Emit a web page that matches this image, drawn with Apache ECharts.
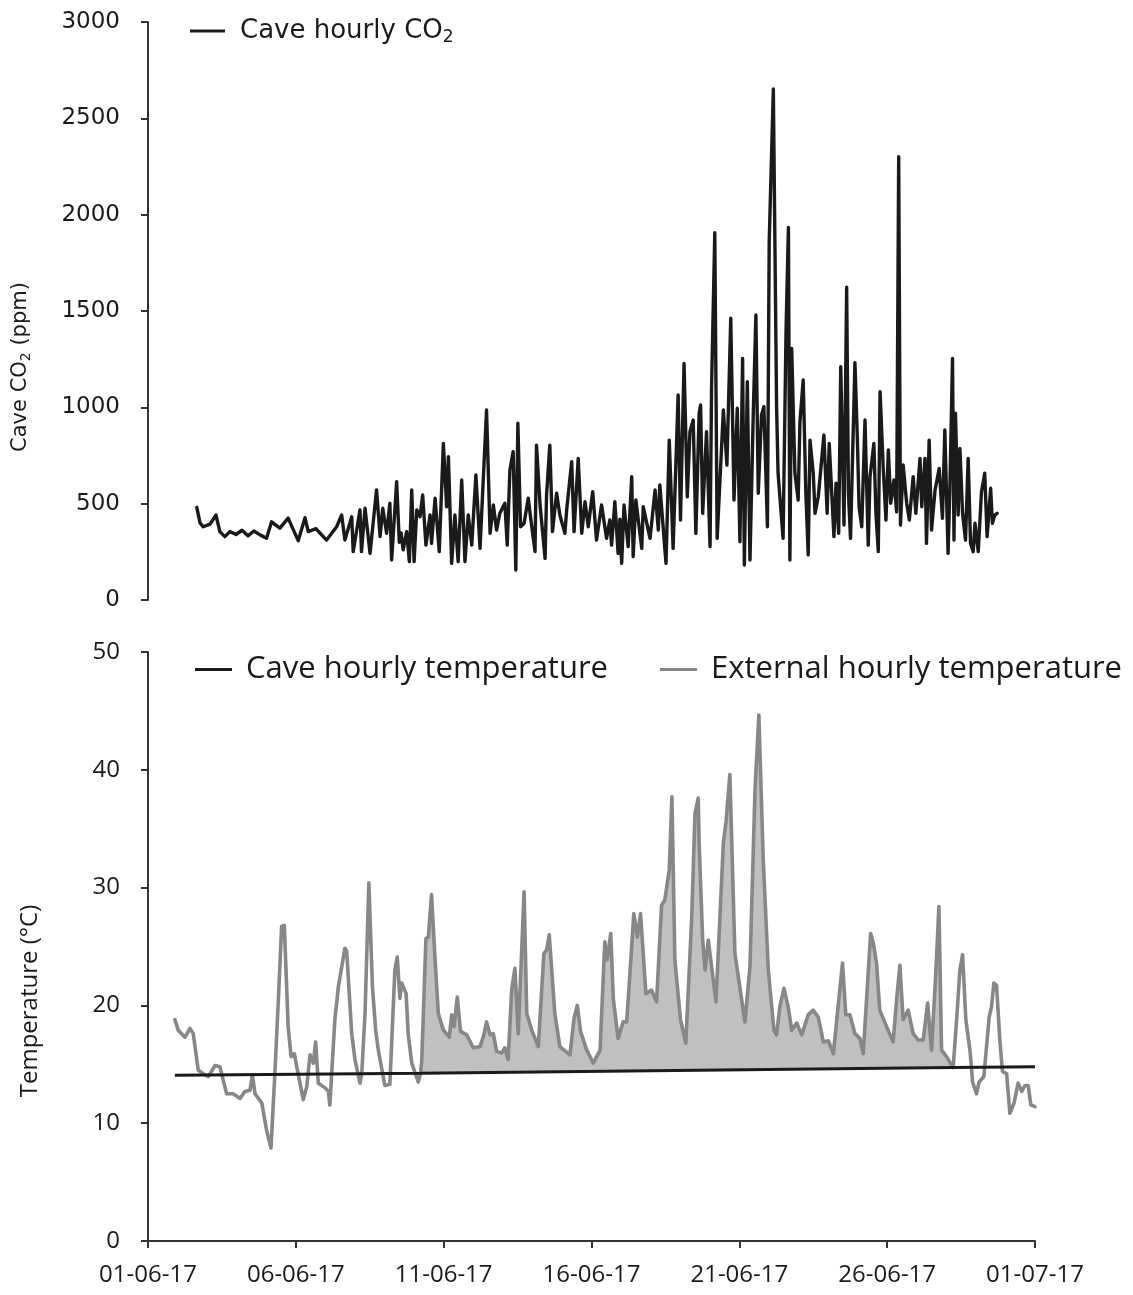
<!DOCTYPE html>
<html>
<head>
<meta charset="utf-8">
<script src="https://cdn.jsdelivr.net/npm/echarts@6/dist/echarts.min.js"></script>
<style>
html,body{margin:0;padding:0;background:#fff;}
#chart{width:1133px;height:1295px;}
</style>
</head>
<body>
<div id="chart"></div>
<script>
// x positions are days since 01-06-17 00:00
const dateTickLabels = ['01-06-17','06-06-17','11-06-17','16-06-17','21-06-17','26-06-17','01-07-17'];

const co2Days = [1.65,1.76,1.87,2.10,2.30,2.43,2.60,2.77,2.98,3.18,3.38,3.58,3.79,4.01,4.18,4.46,4.74,5.08,5.31,5.42,5.68,6.04,6.38,6.55,6.66,6.89,6.94,7.17,7.22,7.34,7.51,7.73,7.85,7.94,8.07,8.18,8.24,8.41,8.50,8.56,8.63,8.75,8.84,8.92,9.00,9.09,9.20,9.29,9.40,9.54,9.59,9.71,9.85,9.99,10.10,10.16,10.27,10.38,10.49,10.61,10.72,10.83,10.95,11.09,11.23,11.45,11.57,11.68,11.79,11.90,12.07,12.15,12.24,12.35,12.44,12.51,12.60,12.72,12.86,12.98,13.09,13.14,13.26,13.43,13.48,13.59,13.68,13.82,13.93,14.10,14.16,14.33,14.41,14.55,14.67,14.78,14.89,15.04,15.17,15.34,15.51,15.62,15.68,15.79,15.90,15.96,16.02,16.10,16.24,16.36,16.41,16.50,16.70,16.75,16.98,17.15,17.26,17.31,17.52,17.63,17.76,17.93,18.01,18.13,18.24,18.33,18.44,18.53,18.64,18.69,18.76,18.89,19.01,19.06,19.17,19.25,19.46,19.58,19.71,19.82,19.93,20.02,20.11,20.17,20.27,20.36,20.47,20.56,20.64,20.75,20.83,20.95,21.01,21.15,21.26,21.31,21.48,21.58,21.66,21.71,21.77,21.88,21.99,22.05,22.16,22.25,22.33,22.39,22.50,22.56,22.67,22.86,22.97,23.04,23.20,23.27,23.36,23.43,23.54,23.63,23.69,23.76,23.91,23.99,24.05,24.14,24.25,24.36,24.42,24.55,24.62,24.70,24.76,24.87,24.96,25.04,25.12,25.23,25.32,25.39,25.45,25.54,25.66,25.75,25.88,25.97,26.11,26.17,26.28,26.33,26.42,26.50,26.62,26.76,26.87,26.95,27.06,27.12,27.21,27.26,27.31,27.40,27.46,27.55,27.65,27.74,27.82,27.91,27.97,28.08,28.19,28.30,28.38,28.50,28.56,28.64,28.72];
const co2Values = [481,400,380,394,441,355,329,355,340,362,333,358,338,321,406,373,425,308,427,355,370,311,380,441,311,432,251,467,251,476,242,571,329,476,346,502,208,614,300,348,260,355,199,571,199,467,432,545,285,441,294,528,251,813,484,744,190,441,199,623,199,441,285,649,268,986,346,493,363,450,502,285,675,770,156,917,380,398,528,380,251,804,493,216,545,804,355,554,441,346,467,718,355,735,346,510,380,562,311,493,320,415,285,510,242,420,190,493,277,640,225,519,268,484,320,571,363,597,190,830,268,1064,415,1228,536,874,934,346,969,1012,450,874,277,1099,1906,320,986,700,1462,519,995,303,1254,182,1133,208,960,1479,554,960,1003,380,1860,2652,1003,658,320,1401,1934,208,1306,658,519,925,1142,554,234,830,658,450,536,856,450,813,329,606,346,1211,389,1623,554,320,1232,848,484,380,934,285,640,813,450,251,1081,675,415,779,502,623,458,2301,389,701,502,415,640,450,735,484,735,294,830,363,571,683,424,882,242,571,1254,311,969,441,787,450,311,735,294,251,398,251,562,658,329,580,398,441,450];

const extDays = [0.91,1.02,1.25,1.42,1.53,1.70,1.87,2.04,2.27,2.43,2.66,2.88,3.11,3.28,3.45,3.53,3.62,3.85,4.01,4.16,4.29,4.41,4.52,4.61,4.74,4.84,4.95,5.03,5.25,5.37,5.48,5.59,5.67,5.76,5.99,6.10,6.15,6.32,6.44,6.66,6.72,6.89,7.00,7.17,7.23,7.34,7.47,7.59,7.70,7.79,8.01,8.18,8.35,8.43,8.52,8.58,8.73,8.80,8.92,9.14,9.22,9.26,9.40,9.48,9.59,9.71,9.82,9.99,10.19,10.27,10.35,10.46,10.57,10.78,11.00,11.23,11.36,11.45,11.57,11.68,11.79,11.96,12.07,12.18,12.30,12.41,12.52,12.64,12.72,12.81,12.98,13.20,13.39,13.48,13.57,13.76,13.93,14.27,14.41,14.52,14.63,14.84,15.06,15.29,15.45,15.53,15.65,15.74,15.90,16.07,16.19,16.30,16.43,16.55,16.66,16.84,17.03,17.20,17.37,17.48,17.63,17.72,17.82,18.01,18.19,18.39,18.50,18.61,18.64,18.76,18.84,18.95,19.21,19.46,19.55,19.68,19.85,20.19,20.36,20.53,20.66,20.81,20.98,21.17,21.26,21.37,21.51,21.65,21.77,21.94,22.11,22.33,22.50,22.67,22.84,23.01,23.18,23.34,23.49,23.60,23.74,23.91,24.08,24.19,24.33,24.44,24.53,24.64,24.75,24.98,25.20,25.32,25.43,25.54,25.71,25.88,26.05,26.22,26.37,26.50,26.65,26.75,26.84,27.01,27.23,27.35,27.46,27.55,27.66,27.80,27.89,28.02,28.11,28.27,28.45,28.53,28.61,28.70,28.81,28.90,29.04,29.15,29.29,29.43,29.55,29.66,29.77,29.86,30.00];
const extValues = [18.8,17.9,17.3,18.05,17.6,14.5,14.2,13.95,14.9,14.8,12.5,12.5,12.1,12.7,12.8,14.1,12.5,11.7,9.4,7.9,14.2,20.5,26.7,26.8,18.2,15.65,15.9,14.8,12.0,13.1,15.8,15.1,16.9,13.4,13.0,12.7,11.55,18.8,21.6,24.85,24.6,17.6,15.4,13.4,14.2,19.3,30.4,21.6,17.9,16.2,13.2,13.3,23.0,24.1,20.6,21.9,21.0,17.6,15.1,13.5,14.25,15.4,25.7,25.8,29.4,23.85,19.3,17.9,17.3,19.2,18.2,20.7,17.8,17.5,16.4,16.5,17.5,18.6,17.5,17.6,16.1,15.95,16.4,15.4,21.3,23.15,17.6,24.7,29.65,19.3,17.9,16.5,24.4,24.7,26.0,19.3,16.5,15.8,18.9,20.0,17.8,16.2,15.1,16.2,25.4,23.85,26.1,20.5,17.2,18.6,18.6,22.7,27.8,25.8,27.8,21.0,21.3,20.3,28.5,28.95,31.5,37.7,23.85,18.8,16.8,27.5,36.3,37.6,33.8,25.55,23.0,25.55,20.3,33.8,35.6,39.6,24.4,18.6,23.3,38.3,44.65,32.3,23.0,17.9,17.5,19.9,21.45,19.9,17.9,18.5,17.5,19.2,19.6,19.0,16.9,17.0,15.9,19.9,23.6,19.2,19.2,17.6,17.2,15.9,21.6,26.1,25.3,23.6,19.6,18.2,16.9,20.5,23.4,18.8,19.6,17.6,17.06,17.06,20.2,16.2,23.0,28.4,16.2,15.65,14.72,18.8,23.0,24.3,18.8,16.2,13.5,12.5,13.5,13.95,19.0,19.9,21.9,21.7,17.06,14.4,14.2,10.84,11.7,13.4,12.7,13.2,13.2,11.55,11.4];

const caveDays = [0.91, 9.22, 27.23, 30.00];
const caveValues = [14.08, 14.25, 14.72, 14.80];

// shaded period (external above cave)
const shadeFromDay = 9.22;
const shadeToDay = 27.23;

const pair = (xs, ys) => xs.map((x, i) => [x, ys[i]]);
const co2Data = pair(co2Days, co2Values);
const extData = pair(extDays, extValues);
const caveData = pair(caveDays, caveValues);
const inShade = p => p[0] >= shadeFromDay && p[0] <= shadeToDay;
const shadeTop = extData.filter(inShade);
// white mask below the cave line, slightly wider than the shaded period to hide edge seams
const shadeBase = caveData.filter(inShade).map((p, i, a) =>
  [i === 0 ? p[0] - 0.04 : (i === a.length - 1 ? p[0] + 0.04 : p[0]), p[1]]);

const FT = 'DejaVu Sans';
const FB = 'Open Sans';
const INK = '#1a1a1a';

const chart = echarts.init(document.getElementById('chart'), null, {renderer: 'canvas'});
chart.setOption({
  animation: false,
  backgroundColor: '#fff',
  grid: [
    {left: 148, top: 22, width: 887, height: 578, outerBoundsMode: 'none'},
    {left: 148, top: 652, width: 887, height: 589, outerBoundsMode: 'none'}
  ],
  xAxis: [
    {type: 'value', gridIndex: 0, min: 0, max: 30, interval: 5, show: false},
    {type: 'value', gridIndex: 1, min: 0, max: 30, interval: 5, z: 10,
     axisLine: {show: true, onZero: false, lineStyle: {color: '#333', width: 2}},
     axisTick: {show: true, inside: false, length: 7, lineStyle: {color: '#333', width: 2}},
     splitLine: {show: false},
     axisLabel: {margin: 22, fontFamily: FB, fontSize: 24, color: INK,
       formatter: v => dateTickLabels[Math.round(v / 5)]}}
  ],
  yAxis: [
    {type: 'value', gridIndex: 0, min: 0, max: 3000, interval: 500, z: 10,
     axisLine: {show: true, lineStyle: {color: '#333', width: 2}},
     axisTick: {show: true, inside: false, length: 7, lineStyle: {color: '#333', width: 2}},
     splitLine: {show: false},
     axisLabel: {margin: 28, fontFamily: FT, fontSize: 23, color: INK, formatter: v => String(v)}},
    {type: 'value', gridIndex: 1, min: 0, max: 50, interval: 10, z: 10,
     axisLine: {show: true, lineStyle: {color: '#333', width: 2}},
     axisTick: {show: true, inside: false, length: 7, lineStyle: {color: '#333', width: 2}},
     splitLine: {show: false},
     axisLabel: {margin: 28, fontFamily: FB, fontSize: 24, color: INK, formatter: v => String(v)}}
  ],
  legend: [
    {data: ['Cave hourly CO2'], left: 190, top: 18, padding: 0,
     icon: 'rect', itemWidth: 35, itemHeight: 3,
     formatter: () => '{a|Cave hourly CO}{s|2}',
     textStyle: {padding: [0, 0, 0, 10], rich: {
       a: {fontFamily: FT, fontSize: 26, color: INK},
       s: {fontFamily: FT, fontSize: 17, color: INK, padding: [14, 0, 0, 0]}}}},
    {data: ['Cave hourly temperature', 'External hourly temperature'], left: 195, top: 654, padding: 0,
     icon: 'rect', itemWidth: 37, itemHeight: 3, itemGap: 52,
     textStyle: {fontFamily: FB, fontSize: 31, color: INK, padding: [0, 0, 0, 9]}}
  ],
  graphic: [
    {type: 'text', x: 21, y: 367, rotation: Math.PI / 2,
     style: {text: '{a|Cave CO}{s|2}{a| (ppm)}', align: 'center', verticalAlign: 'middle', fill: INK,
       rich: {a: {fontFamily: FT, fontSize: 21, fill: INK, color: INK},
              s: {fontFamily: FT, fontSize: 14, fill: INK, color: INK, padding: [11, 0, 0, 0]}}}},
    {type: 'text', x: 30, y: 1001, rotation: Math.PI / 2,
     style: {text: 'Temperature (°C)', align: 'center', verticalAlign: 'middle',
       fontFamily: FB, fontSize: 24, fill: INK}}
  ],
  series: [
    {name: 'Cave hourly CO2', type: 'line', xAxisIndex: 0, yAxisIndex: 0, data: co2Data,
     showSymbol: false, symbol: 'none', z: 3, color: INK,
     lineStyle: {color: INK, width: 3.4, join: 'round', cap: 'round'}},
    {name: 'shade', type: 'line', xAxisIndex: 1, yAxisIndex: 1, data: shadeTop,
     showSymbol: false, symbol: 'none', z: 1, silent: true,
     lineStyle: {width: 0, opacity: 0}, areaStyle: {color: '#c0c0c0', opacity: 1}},
    {name: 'mask', type: 'line', xAxisIndex: 1, yAxisIndex: 1, data: shadeBase,
     showSymbol: false, symbol: 'none', z: 2, silent: true,
     lineStyle: {width: 0, opacity: 0}, areaStyle: {color: '#ffffff', opacity: 1}},
    {name: 'External hourly temperature', type: 'line', xAxisIndex: 1, yAxisIndex: 1, data: extData,
     showSymbol: false, symbol: 'none', z: 3, color: '#878787',
     lineStyle: {color: '#878787', width: 3.6, join: 'round', cap: 'round'}},
    {name: 'Cave hourly temperature', type: 'line', xAxisIndex: 1, yAxisIndex: 1, data: caveData,
     showSymbol: false, symbol: 'none', z: 4, color: INK,
     lineStyle: {color: INK, width: 3}}
  ]
});
</script>
</body>
</html>
